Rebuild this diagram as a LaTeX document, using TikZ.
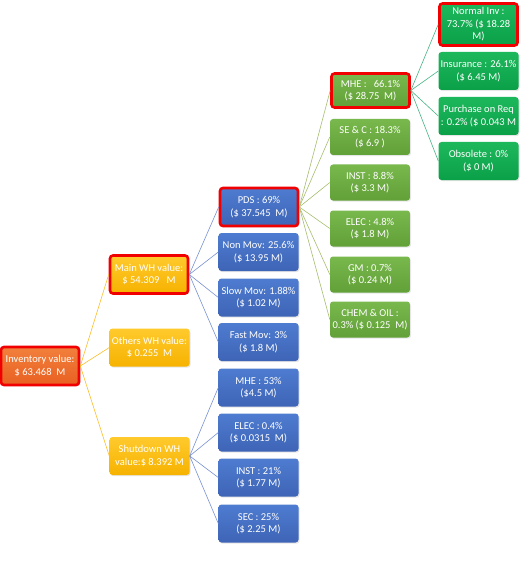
\documentclass[tikz,border=0pt]{standalone}
\usepackage{fontspec}
\setmainfont{Carlito}
\usetikzlibrary{shadows}
\definecolor{rootT}{RGB}{242,128,60}
\definecolor{rootB}{RGB}{232,96,34}
\definecolor{yelT}{RGB}{255,202,45}
\definecolor{yelB}{RGB}{246,178,0}
\definecolor{bluT}{RGB}{78,124,208}
\definecolor{bluB}{RGB}{62,100,182}
\definecolor{grnT}{RGB}{120,184,76}
\definecolor{grnB}{RGB}{98,160,56}
\definecolor{gr2T}{RGB}{30,184,92}
\definecolor{gr2B}{RGB}{10,160,72}
\definecolor{yelLine}{RGB}{250,190,40}
\definecolor{bluLine}{RGB}{120,145,210}
\definecolor{grnLine}{RGB}{165,190,110}
\definecolor{gr2Line}{RGB}{70,180,130}
\definecolor{redBorder}{RGB}{240,0,0}
\tikzset{
  box/.style={rounded corners=3pt, text=white, align=center, inner sep=1pt,
    font=\fontsize{10.5}{12.5}\selectfont, minimum width=80pt, minimum height=38pt,
    drop shadow={opacity=0.2, shadow xshift=1pt, shadow yshift=-1.2pt}},
  hl/.style={draw=redBorder, line width=2.6pt, minimum width=78pt, minimum height=38pt},
  rootbox/.style={box, top color=rootT, bottom color=rootB, hl},
  yelbox/.style={box, top color=yelT, bottom color=yelB},
  blubox/.style={box, top color=bluT, bottom color=bluB},
  grnbox/.style={box, top color=grnT, bottom color=grnB, minimum height=36pt},
  gr2box/.style={box, top color=gr2T, bottom color=gr2B},
  conn/.style={line width=0.6pt},
}
\begin{document}
\begin{tikzpicture}[x=1pt, y=-1pt]
\useasboundingbox (0,0) rectangle (522,572);
% level 0
\node[rootbox] (root) at (40,366) {Inventory value:\\\$ 63.468~ M};
% level 1
\node[yelbox, hl] (main) at (149,274.5) {Main WH value:\\\$ 54.309~~ M};
\node[yelbox] (others) at (149.5,347.5) {Others WH value:\\\$ 0.255~ M};
\node[yelbox] (shut) at (149.5,456) {Shutdown WH\\value:\$ 8.392 M};
% level 2 (blue)
\node[blubox, hl] (pds) at (259,207) {PDS : 69\%\\(\$ 37.545~ M)};
\node[blubox] (nonmov) at (258.5,252) {Non Mov: 25.6\%\\(\$ 13.95 M)};
\node[blubox] (slowmov) at (258.5,297.5) {Slow Mov: 1.88\%\\(\$ 1.02 M)};
\node[blubox] (fastmov) at (258.5,342) {Fast Mov: 3\%\\(\$ 1.8 M)};
\node[blubox] (smhe) at (258.5,387.5) {MHE : 53\%\\(\$4.5 M)};
\node[blubox] (selec) at (258.5,432.5) {ELEC : 0.4\%\\(\$ 0.0315~ M)};
\node[blubox] (sinst) at (258.5,477.5) {INST : 21\%\\(\$ 1.77 M)};
\node[blubox] (ssec) at (258.5,523.5) {SEC : 25\%\\(\$ 2.25 M)};
% level 3 (green)
\node[grnbox, hl, minimum height=34pt] (mhe) at (370.5,90.5) {MHE :~~ 66.1\%\\(\$ 28.75~ M)};
\node[grnbox] (sec) at (370,137) {SE \& C : 18.3\%\\(\$ 6.9 )};
\node[grnbox] (inst) at (370,182.5) {INST : 8.8\%\\(\$ 3.3 M)};
\node[grnbox] (elec) at (370,228.5) {ELEC : 4.8\%\\(\$ 1.8 M)};
\node[grnbox] (gm) at (370,274.5) {GM : 0.7\%\\(\$ 0.24 M)};
\node[grnbox] (chem) at (370,319.5) {CHEM \& OIL :\\0.3\% (\$ 0.125~ M)};
% level 4 (green 2)
\node[gr2box, hl, minimum height=42pt] (normal) at (478.5,24.5) {Normal Inv :\\73.7\% (\$ 18.28\\M)};
\node[gr2box] (insur) at (478.5,71) {Insurance : 26.1\%\\(\$ 6.45 M)};
\node[gr2box] (purch) at (478.5,116) {Purchase on Req\\: 0.2\% (\$ 0.043 M};
\node[gr2box] (obs) at (478.5,161) {Obsolete : 0\%\\(\$ 0 M)};
% connectors
\foreach \c in {main,others,shut}
  \draw[conn, yelLine] (root.east) -- (\c.west);
\foreach \c in {pds,nonmov,slowmov,fastmov}
  \draw[conn, bluLine] (main.east) -- (\c.west);
\foreach \c in {smhe,selec,sinst,ssec}
  \draw[conn, bluLine] (shut.east) -- (\c.west);
\foreach \c in {mhe,sec,inst,elec,gm,chem}
  \draw[conn, grnLine] (pds.east) -- (\c.west);
\foreach \c in {normal,insur,purch,obs}
  \draw[conn, gr2Line] (mhe.east) -- (\c.west);
\end{tikzpicture}
\end{document}
